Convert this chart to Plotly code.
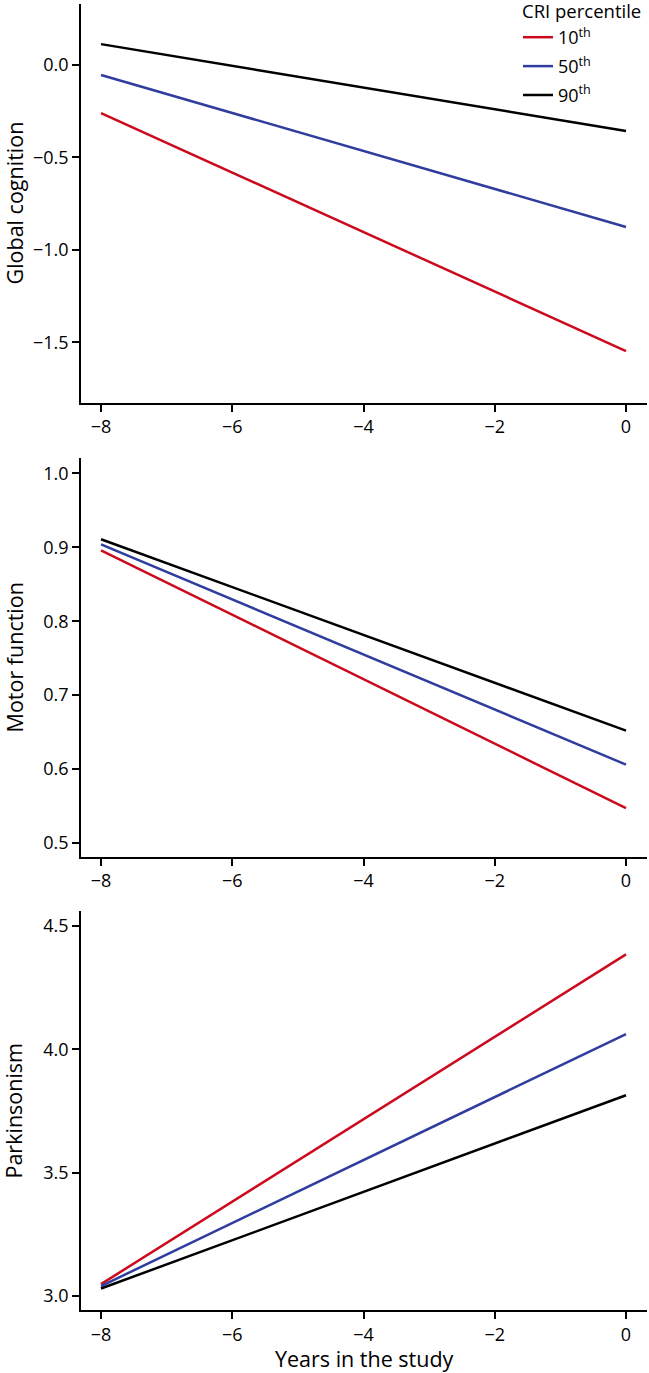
import plotly.graph_objects as go

# Data
years = [-8, 0]
percentiles = ["10<sup>th</sup>", "50<sup>th</sup>", "90<sup>th</sup>"]
colors = ["#CC0A1E", "#2F3E9E", "#000000"]

global_cog_10 = [-0.26, -1.547]
global_cog_50 = [-0.054, -0.876]
global_cog_90 = [0.113, -0.357]

motor_10 = [0.896, 0.547]
motor_50 = [0.904, 0.606]
motor_90 = [0.911, 0.652]

parkinson_10 = [3.048, 4.385]
parkinson_50 = [3.04, 4.062]
parkinson_90 = [3.03, 3.814]

panel_titles = ["Global cognition", "Motor function", "Parkinsonism"]
panel_series = [
    [global_cog_10, global_cog_50, global_cog_90],
    [motor_10, motor_50, motor_90],
    [parkinson_10, parkinson_50, parkinson_90],
]
panel_yticks = [[-1.5, -1.0, -0.5, 0.0], [0.5, 0.6, 0.7, 0.8, 0.9, 1.0], [3.0, 3.5, 4.0, 4.5]]
panel_yranges = [[-1.828, 0.33], [0.481, 1.021], [2.943, 4.561]]
x_ticks = [-8, -6, -4, -2, 0]
x_title = "Years in the study"
legend_title = "CRI percentile"

domains = [[0.6945, 1.0], [0.3469, 0.6524], [0.0, 0.3055]]

FONT = "Open Sans"
W, H = 649, 1373
ML, MR, MT, MB = 81, 2, 4, 63
PW = W - ML - MR
PH = H - MT - MB

fig = go.Figure()

for i in range(3):
    n = i + 1
    xa = "x" if n == 1 else f"x{n}"
    ya = "y" if n == 1 else f"y{n}"
    for j, vals in enumerate(panel_series[i]):
        fig.add_trace(go.Scatter(
            x=years, y=vals, mode="lines",
            line=dict(color=colors[j], width=2.5),
            name=percentiles[j], legendgroup=percentiles[j],
            showlegend=(n == 1),
            xaxis=xa, yaxis=ya,
        ))
    axis_common = dict(showline=True, linecolor="black", linewidth=1.8,
                       ticks="outside", ticklen=7, tickwidth=1.5, tickcolor="black",
                       showgrid=False, zeroline=False, automargin=False,
                       tickfont=dict(family=FONT, size=18, color="black"))
    xkey = "xaxis" if n == 1 else f"xaxis{n}"
    ykey = "yaxis" if n == 1 else f"yaxis{n}"
    fig.layout[xkey] = dict(
        anchor=ya, domain=[0, 1], range=[-8.305, 0.32],
        tickvals=x_ticks,
        ticktext=[f"\u2212{abs(v)}" if v < 0 else str(v) for v in x_ticks],
        **axis_common,
    )
    fig.layout[ykey] = dict(
        anchor=xa, domain=domains[i], range=panel_yranges[i],
        tickvals=panel_yticks[i], tickformat=".1f",
        **axis_common,
    )
    # y-axis title
    fig.add_annotation(
        text=panel_titles[i], xref="paper", yref="paper",
        x=(14 - ML) / PW, y=(domains[i][0] + domains[i][1]) / 2,
        xanchor="center", yanchor="middle", textangle=-90, showarrow=False,
        font=dict(family=FONT, size=21.5, color="black"),
    )

fig.add_annotation(
    text=x_title, xref="paper", yref="paper",
    x=0.5, y=(1310 - 1359) / PH, xanchor="center", yanchor="middle",
    showarrow=False, font=dict(family=FONT, size=21.5, color="black"),
)

# legend title as text
fig.add_annotation(
    text=legend_title, xref="paper", yref="paper",
    x=(521 - ML) / PW, y=1 + (4 - 11) / PH, xanchor="left", yanchor="middle",
    showarrow=False, borderpad=0, font=dict(family=FONT, size=18.5, color="black"),
)

fig.update_layout(
    width=W, height=H,
    margin=dict(l=ML, r=MR, t=MT, b=MB),
    paper_bgcolor="white", plot_bgcolor="white",
    font=dict(family=FONT, size=18, color="black"),
    showlegend=True,
    legend=dict(
        x=(518 - ML) / PW, xanchor="left", y=1 - (19 - 4) / PH, yanchor="top",
        font=dict(family=FONT, size=18),
        bgcolor="rgba(0,0,0,0)", tracegroupgap=2.5, itemwidth=30,
    ),
)

fig.write_html("out.html", post_script="document.body.style.margin='0';",
               config={"displayModeBar": False})
